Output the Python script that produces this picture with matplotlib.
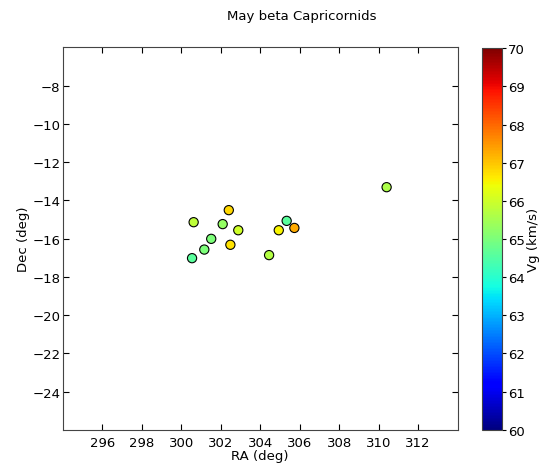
import matplotlib
matplotlib.use("Agg")
import matplotlib.pyplot as plt
import numpy as np

ra = [300.63, 302.41, 302.10, 302.89, 301.52, 301.17, 300.55, 302.49, 305.34, 304.94, 305.73, 304.45, 310.40]
dec = [-15.14, -14.51, -15.24, -15.56, -16.01, -16.57, -17.02, -16.32, -15.07, -15.56, -15.44, -16.86, -13.31]
vg = [65.8, 66.8, 65.3, 66.0, 65.0, 65.0, 64.6, 66.7, 64.6, 66.5, 67.3, 65.7, 65.6]

xticks = list(range(296, 313, 2))
yticks = list(range(-24, -7, 2))
cticks = list(range(60, 71))

FS = 9.5
fig = plt.figure(figsize=(5.39, 4.64), dpi=100)
ax = fig.add_axes([0.1163, 0.0711, 0.7329, 0.8248])
cax = fig.add_axes([0.8948, 0.0717, 0.036, 0.822])

sc = ax.scatter(ra, dec, c=vg, cmap="jet", vmin=60, vmax=70, s=44,
                edgecolors="black", linewidths=0.8, zorder=3)
ax.set_xlim(294, 314)
ax.set_ylim(-26, -6)
ax.set_xticks(xticks)
ax.set_yticks(yticks)
ax.tick_params(direction="in", top=True, right=True, length=4, labelsize=FS)
ax.tick_params(axis="x", pad=4)
ax.tick_params(axis="y", pad=1.5)
ax.set_xlabel("RA (deg)", fontsize=FS, labelpad=0)
ax.set_ylabel("Dec (deg)", fontsize=FS, labelpad=2)
for s in ax.spines.values():
    s.set_color("#444444")

cb = fig.colorbar(sc, cax=cax, ticks=cticks)
cb.set_label("Vg (km/s)", fontsize=FS)
cb.ax.yaxis.set_label_coords(2.29, 0.5)
cb.ax.tick_params(labelsize=FS, length=3, pad=1.5)
cb.outline.set_edgecolor("#444444")

fig.text(0.56, 0.965, "May beta Capricornids", ha="center", va="center", fontsize=FS)

fig.savefig("out.png", dpi=100)
